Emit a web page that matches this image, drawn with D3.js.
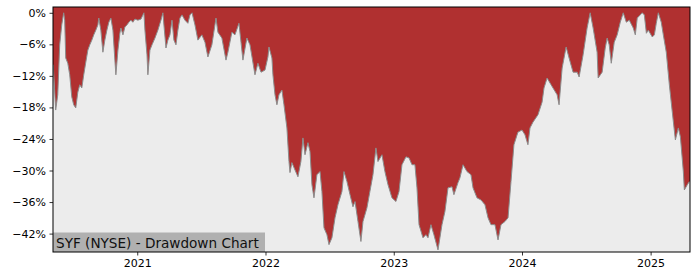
<!DOCTYPE html>
<html>
<head>
<meta charset="utf-8">
<script src="https://cdn.jsdelivr.net/npm/d3@7"></script>
<style>
  body { margin: 0; background: #fff; }
  text { font-family: "DejaVu Sans", sans-serif; }
</style>
</head>
<body>
<div id="chart"></div>
<script>
// drawdown series: time as decimal year, value in %
const years = [
  2020.347, 2020.366, 2020.382, 2020.397, 2020.413, 2020.428, 2020.436, 2020.444, 2020.460, 2020.475,
  2020.491, 2020.506, 2020.522, 2020.538, 2020.553, 2020.569, 2020.584, 2020.600, 2020.616, 2020.631,
  2020.647, 2020.662, 2020.678, 2020.694, 2020.701, 2020.717, 2020.733, 2020.748, 2020.764, 2020.779,
  2020.795, 2020.811, 2020.826, 2020.834, 2020.850, 2020.865, 2020.873, 2020.889, 2020.904, 2020.920,
  2020.935, 2020.951, 2020.966, 2020.982, 2021.005, 2021.029, 2021.052, 2021.060, 2021.076, 2021.083,
  2021.099, 2021.115, 2021.138, 2021.161, 2021.185, 2021.200, 2021.208, 2021.224, 2021.239, 2021.255,
  2021.271, 2021.286, 2021.302, 2021.317, 2021.333, 2021.349, 2021.372, 2021.395, 2021.411, 2021.427,
  2021.450, 2021.473, 2021.504, 2021.528, 2021.551, 2021.582, 2021.614, 2021.629, 2021.660, 2021.692,
  2021.707, 2021.738, 2021.762, 2021.793, 2021.809, 2021.824, 2021.855, 2021.879, 2021.918, 2021.941,
  2021.965, 2021.996, 2022.019, 2022.027, 2022.050, 2022.058, 2022.074, 2022.089, 2022.105, 2022.128,
  2022.144, 2022.167, 2022.183, 2022.191, 2022.206, 2022.230, 2022.253, 2022.276, 2022.292, 2022.308,
  2022.331, 2022.347, 2022.362, 2022.378, 2022.401, 2022.425, 2022.440, 2022.456, 2022.479, 2022.495,
  2022.518, 2022.542, 2022.565, 2022.596, 2022.612, 2022.635, 2022.659, 2022.682, 2022.698, 2022.721,
  2022.744, 2022.760, 2022.791, 2022.814, 2022.838, 2022.861, 2022.877, 2022.908, 2022.931, 2022.955,
  2022.986, 2023.017, 2023.041, 2023.064, 2023.095, 2023.119, 2023.142, 2023.165, 2023.181, 2023.197,
  2023.228, 2023.251, 2023.267, 2023.290, 2023.313, 2023.345, 2023.376, 2023.399, 2023.423, 2023.454,
  2023.469, 2023.501, 2023.516, 2023.540, 2023.571, 2023.602, 2023.618, 2023.649, 2023.680, 2023.711,
  2023.735, 2023.758, 2023.789, 2023.813, 2023.836, 2023.867, 2023.891, 2023.914, 2023.937, 2023.968,
  2024.000, 2024.023, 2024.046, 2024.062, 2024.085, 2024.124, 2024.156, 2024.171, 2024.195, 2024.226,
  2024.241, 2024.273, 2024.288, 2024.312, 2024.343, 2024.366, 2024.397, 2024.429, 2024.444, 2024.475,
  2024.506, 2024.530, 2024.553, 2024.584, 2024.592, 2024.623, 2024.647, 2024.662, 2024.678, 2024.694,
  2024.717, 2024.740, 2024.764, 2024.787, 2024.811, 2024.834, 2024.865, 2024.881, 2024.896, 2024.935,
  2024.951, 2024.967, 2024.982, 2025.013, 2025.029, 2025.044, 2025.060, 2025.083, 2025.099, 2025.122,
  2025.146, 2025.169, 2025.193, 2025.216, 2025.232, 2025.255, 2025.263, 2025.286, 2025.302
];
const drawdown = [
  -9.9, -18.5, -15.6, -6.1, -2.3, 0, -1.4, -8.6, -9.6, -11.8,
  -16.0, -17.5, -18.1, -15.1, -13.7, -14.3, -11.8, -9.4, -7.1, -6.1,
  -5.2, -4.2, -3.3, -2.3, -1.0, -3.3, -7.5, -5.2, -3.3, -1.8,
  -1.0, -3.3, -9.0, -11.8, -7.1, -3.9, -2.9, -4.2, -2.7, -2.3,
  -1.8, -1.4, -1.8, -1.2, -1.4, -1.2, 0, -3.3, -8.0, -11.8,
  -7.1, -6.1, -4.8, -3.3, -1.4, 0, -2.3, -6.7, -5.2, -4.2,
  -1.4, -5.2, -6.1, -3.3, -1.0, -0.4, -1.4, -2.0, -0.4, 0,
  -2.3, -5.2, -4.2, -5.6, -8.4, -6.1, -1.0, -3.7, -4.8, -9.0,
  -7.5, -3.7, -4.2, -2.0, -5.6, -9.0, -4.8, -6.1, -11.8, -9.6,
  -11.3, -10.9, -8.4, -6.5, -8.6, -11.8, -15.6, -17.5, -15.6, -14.7,
  -17.5, -21.9, -28.3, -30.4, -28.5, -29.9, -31.2, -28.3, -23.8, -27.0,
  -24.7, -26.4, -32.7, -35.2, -30.8, -30.2, -34.0, -40.9, -42.2, -44.1,
  -42.8, -39.0, -36.5, -34.0, -30.2, -32.1, -34.6, -36.9, -35.9, -39.7,
  -43.5, -39.7, -37.1, -34.0, -30.8, -25.7, -28.3, -27.0, -30.2, -32.7,
  -35.2, -35.9, -34.0, -28.9, -27.4, -27.6, -28.9, -28.9, -33.3, -40.3,
  -42.8, -42.2, -42.8, -40.3, -42.2, -45.1, -40.3, -37.8, -33.3, -33.1,
  -34.6, -32.3, -31.4, -28.9, -30.2, -30.8, -33.3, -35.2, -35.6, -36.5,
  -39.0, -40.3, -40.3, -43.2, -40.3, -39.7, -39.0, -32.1, -25.1, -22.7,
  -22.3, -23.2, -25.1, -21.9, -20.8, -19.4, -17.0, -14.3, -12.4, -13.7,
  -14.3, -15.6, -17.5, -10.5, -6.5, -8.6, -11.3, -11.3, -12.2, -8.0,
  -2.9, 0, -2.9, -7.5, -12.4, -11.3, -6.7, -4.8, -6.1, -9.6,
  -5.6, -4.2, -1.8, 0, -1.8, -1.4, -2.9, -4.2, -1.0, 0,
  -0.4, -3.9, -3.3, -4.6, -4.2, -2.0, 0, -1.8, -4.2, -7.5,
  -13.7, -18.9, -24.2, -21.9, -23.6, -30.2, -33.7, -32.7, -32.1
];
const yTicks = [0, -6, -12, -18, -24, -30, -36, -42];
const title = 'SYF (NYSE) - Drawdown Chart';

const W = 700, H = 280;
const margin = {top: 7, right: 10, bottom: 28, left: 53};

function toDate(t) {
  const y = Math.floor(t);
  const s = Date.UTC(y, 0, 1), e = Date.UTC(y + 1, 0, 1);
  return new Date(s + (t - y) * (e - s));
}

const data = years.map((t, i) => ({date: toDate(t), v: drawdown[i]}));

const svg = d3.select('#chart').append('svg')
  .attr('width', W)
  .attr('height', H);

const x = d3.scaleUtc()
  .domain([toDate(2020.345), toDate(2025.307)])
  .range([margin.left, W - margin.right]);

const y = d3.scaleLinear()
  .domain([-45.5, 1.1])
  .range([H - margin.bottom, margin.top]);

// plot background
svg.append('rect')
  .attr('x', margin.left)
  .attr('y', margin.top)
  .attr('width', W - margin.left - margin.right)
  .attr('height', H - margin.top - margin.bottom)
  .attr('fill', '#ececec');

const clip = svg.append('clipPath').attr('id', 'plot')
  .append('rect')
  .attr('x', margin.left)
  .attr('y', margin.top)
  .attr('width', W - margin.left - margin.right)
  .attr('height', H - margin.top - margin.bottom);

const area = d3.area()
  .x(d => x(d.date))
  .y0(y(1.1))
  .y1(d => y(d.v));

const g = svg.append('g').attr('clip-path', 'url(#plot)');

g.append('path')
  .datum([{date: x.domain()[0], v: data[0].v}, ...data, {date: x.domain()[1], v: data[data.length - 1].v}])
  .attr('d', area)
  .attr('fill', '#b03030');

g.append('path')
  .datum(data)
  .attr('d', d3.line().x(d => x(d.date)).y(d => y(d.v)))
  .attr('fill', 'none')
  .attr('stroke', '#8c8c8c')
  .attr('stroke-width', 1);

// title box, bottom left inside the plot
const label = svg.append('g');
label.append('rect')
  .attr('x', margin.left)
  .attr('y', H - margin.bottom - 19.5)
  .attr('width', 212)
  .attr('height', 19.5)
  .attr('fill', '#b0b0b0');
label.append('text')
  .attr('x', margin.left + 3)
  .attr('y', H - margin.bottom - 4.5)
  .attr('font-size', '13.6px')
  .attr('fill', '#111')
  .text(title);

// axes
const fmtPct = d => (d < 0 ? '\u2212' + Math.abs(d) : d) + '%';

const yAxis = svg.append('g')
  .attr('transform', `translate(${margin.left},0)`)
  .call(d3.axisLeft(y).tickValues(yTicks).tickFormat(fmtPct).tickSize(3.5).tickPadding(3.5));

const xAxis = svg.append('g')
  .attr('transform', `translate(0,${H - margin.bottom})`)
  .call(d3.axisBottom(x).ticks(d3.utcYear.every(1)).tickFormat(d3.utcFormat('%Y')).tickSize(3.5).tickPadding(3.5));

[yAxis, xAxis].forEach(a => {
  a.select('.domain').remove();
  a.selectAll('text').attr('font-family', '"DejaVu Sans", sans-serif').attr('font-size', '11px').attr('fill', '#000');
  a.selectAll('line').attr('stroke', '#000').attr('stroke-width', 0.8);
});

// frame
svg.append('rect')
  .attr('x', margin.left)
  .attr('y', margin.top)
  .attr('width', W - margin.left - margin.right)
  .attr('height', H - margin.top - margin.bottom)
  .attr('fill', 'none')
  .attr('stroke', '#000')
  .attr('stroke-width', 1);
</script>
</body>
</html>
